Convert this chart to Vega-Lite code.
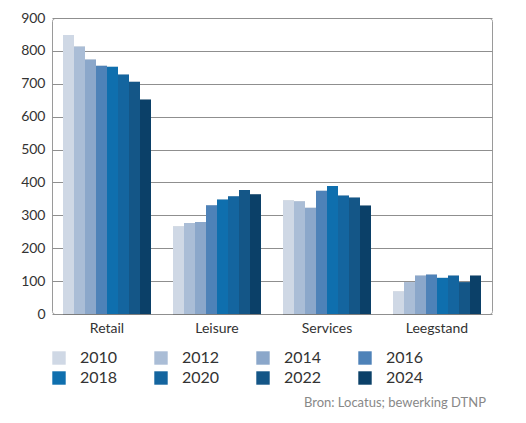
{
  "$schema": "https://vega.github.io/schema/vega-lite/v6.json",
  "width": 440,
  "height": 296,
  "autosize": {"type": "none"},
  "padding": {"left": 52, "top": 18, "right": 34, "bottom": 109},
  "background": "white",
  "title": {
    "text": "Bron: Locatus; bewerking DTNP",
    "orient": "bottom",
    "anchor": "end",
    "offset": 11,
    "fontSize": 13,
    "fontWeight": "normal",
    "color": "#888888",
    "font": "Lato",
    "dx": -6
  },
  "config": {
    "font": "Lato",
    "view": {"stroke": "#9a9a9a", "strokeWidth": 1, "cornerRadius": 3}
  },
  "data": {
    "values": [
      {"categorie": "Retail", "jaar": "2010", "aantal": 848},
      {"categorie": "Retail", "jaar": "2012", "aantal": 813},
      {"categorie": "Retail", "jaar": "2014", "aantal": 774},
      {"categorie": "Retail", "jaar": "2016", "aantal": 755},
      {"categorie": "Retail", "jaar": "2018", "aantal": 752},
      {"categorie": "Retail", "jaar": "2020", "aantal": 728},
      {"categorie": "Retail", "jaar": "2022", "aantal": 706},
      {"categorie": "Retail", "jaar": "2024", "aantal": 652},
      {"categorie": "Leisure", "jaar": "2010", "aantal": 267},
      {"categorie": "Leisure", "jaar": "2012", "aantal": 277},
      {"categorie": "Leisure", "jaar": "2014", "aantal": 280},
      {"categorie": "Leisure", "jaar": "2016", "aantal": 331},
      {"categorie": "Leisure", "jaar": "2018", "aantal": 348},
      {"categorie": "Leisure", "jaar": "2020", "aantal": 358},
      {"categorie": "Leisure", "jaar": "2022", "aantal": 377},
      {"categorie": "Leisure", "jaar": "2024", "aantal": 364},
      {"categorie": "Services", "jaar": "2010", "aantal": 346},
      {"categorie": "Services", "jaar": "2012", "aantal": 343},
      {"categorie": "Services", "jaar": "2014", "aantal": 323},
      {"categorie": "Services", "jaar": "2016", "aantal": 375},
      {"categorie": "Services", "jaar": "2018", "aantal": 389},
      {"categorie": "Services", "jaar": "2020", "aantal": 360},
      {"categorie": "Services", "jaar": "2022", "aantal": 354},
      {"categorie": "Services", "jaar": "2024", "aantal": 330},
      {"categorie": "Leegstand", "jaar": "2010", "aantal": 69},
      {"categorie": "Leegstand", "jaar": "2012", "aantal": 97},
      {"categorie": "Leegstand", "jaar": "2014", "aantal": 117},
      {"categorie": "Leegstand", "jaar": "2016", "aantal": 120},
      {"categorie": "Leegstand", "jaar": "2018", "aantal": 110},
      {"categorie": "Leegstand", "jaar": "2020", "aantal": 117},
      {"categorie": "Leegstand", "jaar": "2022", "aantal": 97},
      {"categorie": "Leegstand", "jaar": "2024", "aantal": 117}
    ]
  },
  "encoding": {
    "x": {
      "field": "categorie",
      "type": "nominal",
      "sort": ["Retail", "Leisure", "Services", "Leegstand"],
      "scale": {"paddingInner": 0.2, "paddingOuter": 0.1},
      "axis": {
        "title": null,
        "labelAngle": 0,
        "ticks": false,
        "domain": false,
        "labelFontSize": 14,
        "labelColor": "#333333",
        "labelPadding": 7
      }
    },
    "xOffset": {"field": "jaar", "type": "nominal", "scale": {"paddingInner": 0, "paddingOuter": 0}},
    "y": {
      "field": "aantal",
      "type": "quantitative",
      "scale": {"domain": [0, 900]},
      "axis": {
        "title": null,
        "values": [0, 100, 200, 300, 400, 500, 600, 700, 800, 900],
        "ticks": false,
        "domain": false,
        "gridColor": "#8f8f8f",
        "gridWidth": 1,
        "labelFontSize": 14,
        "labelColor": "#333333",
        "labelPadding": 7
      }
    }
  },
  "layer": [
    {
      "mark": {"type": "bar", "color": "#000000", "opacity": 0.12, "xOffset": 4, "yOffset": 1},
      "encoding": {}
    },
    {
      "mark": {"type": "bar", "color": "#000000", "opacity": 0.15, "xOffset": 2},
      "encoding": {}
    },
    {
      "mark": {"type": "bar"},
      "encoding": {
        "color": {
          "field": "jaar",
          "type": "nominal",
          "scale": {
            "domain": ["2010", "2012", "2014", "2016", "2018", "2020", "2022", "2024"],
            "range": ["#cfd8e5", "#aabdd6", "#8ba7ca", "#4e82b8", "#0f6fae", "#14659f", "#145687", "#0b4068"]
          },
          "legend": {
            "title": null,
            "orient": "none",
            "legendX": -1,
            "legendY": 332,
            "direction": "horizontal",
            "columns": 4,
            "symbolType": "square",
            "symbolSize": 180,
            "symbolStrokeWidth": 0,
            "symbolOpacity": 1,
            "labelFontSize": 16,
            "labelColor": "#333333",
            "labelOffset": 13,
            "columnPadding": 35,
            "rowPadding": 4
          }
        }
      }
    }
  ]
}
